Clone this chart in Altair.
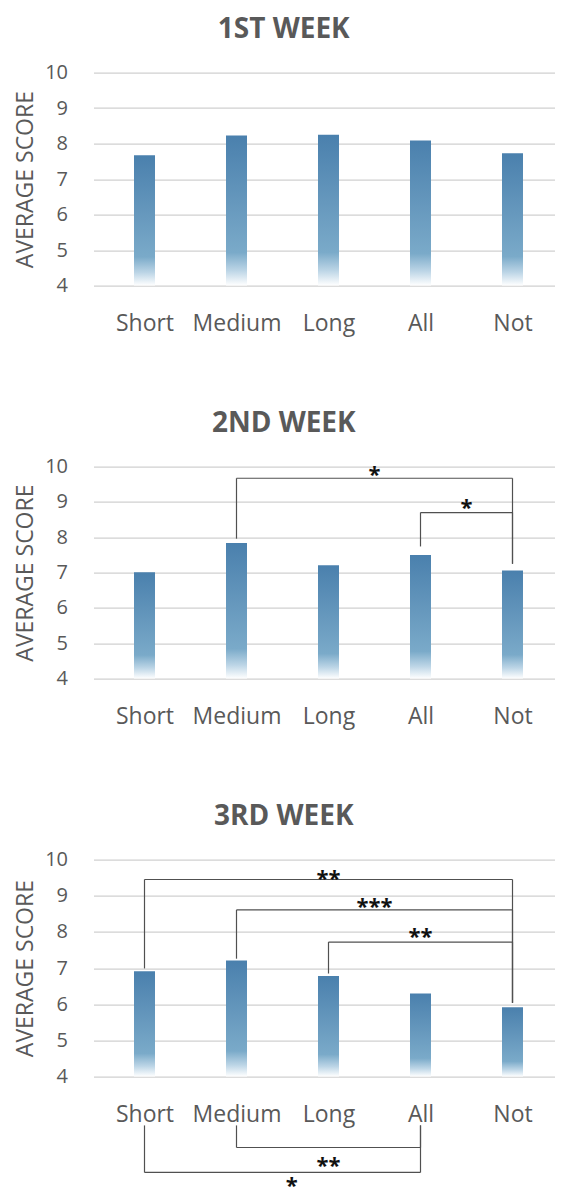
import altair as alt
import pandas as pd

categories = ["Short", "Medium", "Long", "All", "Not"]
weeks = ["1ST WEEK", "2ND WEEK", "3RD WEEK"]
week1_scores = [7.67, 8.23, 8.25, 8.09, 7.73]
week2_scores = [7.01, 7.84, 7.21, 7.50, 7.06]
week3_scores = [6.91, 7.21, 6.78, 6.30, 5.92]

# significance brackets: (left index, right index, bracket level, left leg end, right leg end)
week1_brackets = []
week2_brackets = [(1, 4, 9.67, 7.96, 7.25), (3, 4, 8.70, 7.74, 7.25)]
week3_brackets = [
    (0, 4, 9.45, 6.99, 6.04),
    (1, 4, 8.61, 7.26, 6.04),
    (2, 4, 7.72, 6.85, 6.04),
    (1, 3, 2.04, 2.65, 2.65),
    (0, 3, 1.35, 2.65, 2.65),
]
# star labels: (text, x position in category units, y position)
week1_stars = []
week2_stars = [("*", 2.5, 9.91), ("*", 3.5, 8.97)]
week3_stars = [("**", 2.0, 9.60), ("***", 2.5, 8.82), ("**", 3.0, 8.00),
               ("**", 2.0, 1.68), ("*", 1.6, 1.12)]

y_ticks = [4, 5, 6, 7, 8, 9, 10]

GRAY = "#595959"
FONT = "Open Sans"

gradient = {
    "gradient": "linear", "x1": 0, "x2": 0, "y1": 0, "y2": 1,
    "stops": [
        {"offset": 0.0, "color": "#4a80ad"},
        {"offset": 0.45, "color": "#6698bd"},
        {"offset": 0.78, "color": "#7aaac9"},
        {"offset": 0.90, "color": "#bcd5e6"},
        {"offset": 1.0, "color": "#ffffff"},
    ],
}

label_expr = "[" + ",".join("'%s'" % c for c in categories) + "][datum.value]"


def xenc(field="x"):
    return alt.X(
        f"{field}:Q",
        scale=alt.Scale(domain=[-0.5, len(categories) - 0.5], nice=False, zero=False),
        axis=alt.Axis(values=list(range(len(categories))), labelExpr=label_expr,
                      title=None, grid=False, ticks=False, domain=False,
                      labelFont=FONT, labelFontSize=23, labelColor=GRAY,
                      labelPadding=27),
    )


def yenc(field="y"):
    return alt.Y(
        f"{field}:Q",
        scale=alt.Scale(domain=[4, 10], nice=False, zero=False),
        axis=alt.Axis(values=y_ticks, title="AVERAGE SCORE", grid=True,
                      gridColor="#d0d0d0", gridWidth=1.4, ticks=False, domain=False,
                      labelFont=FONT, labelFontSize=20, labelColor=GRAY,
                      labelPadding=26, titleFont=FONT, titleFontSize=23,
                      titleFontWeight="normal", titleColor=GRAY,
                      titleX=-68.5, titleBaseline="middle"),
    )


def panel(title, scores, brackets, stars, height):
    bars_df = pd.DataFrame({"x": list(range(len(categories))), "y": scores,
                            "cat": categories})
    bars = alt.Chart(bars_df).mark_bar(size=21, color=gradient).encode(
        x=xenc(), y=yenc(), y2=alt.datum(4)
    )
    layers = [bars]
    segs = []
    for l, r, h, lb, rb in brackets:
        segs.append({"x": l, "xe": r, "y": h, "ye": h})
        segs.append({"x": l, "xe": l, "y": h, "ye": lb})
        segs.append({"x": r, "xe": r, "y": h, "ye": rb})
    if segs:
        rules = alt.Chart(pd.DataFrame(segs)).mark_rule(
            color="#505050", strokeWidth=1.2
        ).encode(x=xenc(), x2="xe:Q", y=yenc(), y2="ye:Q")
        layers.append(rules)
    if stars:
        sdf = pd.DataFrame(stars, columns=["label", "x", "y"])
        txt = alt.Chart(sdf).mark_text(
            font=FONT, fontSize=22, fontWeight="bold", color="#111111",
            baseline="middle", align="center", dy=5
        ).encode(x=xenc(), y=yenc(), text="label:N")
        layers.append(txt)
    return alt.layer(*layers).properties(
        width=470, height=height,
        title=alt.TitleParams(title, font=FONT, fontSize=28, fontWeight="bold",
                              color=GRAY, anchor="middle", frame="bounds",
                              offset=18.7, dx=-5),
    )


chart = alt.vconcat(
    panel(weeks[0], week1_scores, week1_brackets, week1_stars, 213),
    panel(weeks[1], week2_scores, week2_brackets, week2_stars, 212),
    panel(weeks[2], week3_scores, week3_brackets, week3_stars, 217),
    spacing=74,
).properties(
    padding={"left": 5.5, "top": 7.6, "right": -8.5, "bottom": -9}
).configure_view(stroke=None)

chart.save("out.html", embed_options={"renderer": "svg", "actions": False})
